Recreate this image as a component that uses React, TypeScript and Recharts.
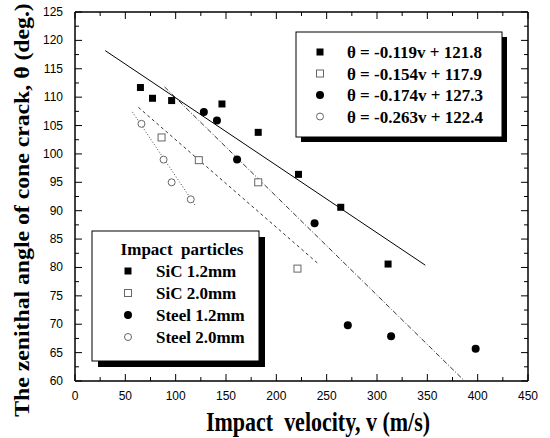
import { ComposedChart, Scatter, Line, XAxis, YAxis } from 'recharts'

// measured points, v (m/s) vs theta (deg)
const sic12 = [
  { v: 65, theta: 111.7 },
  { v: 77, theta: 109.8 },
  { v: 96, theta: 109.4 },
  { v: 146, theta: 108.8 },
  { v: 182, theta: 103.8 },
  { v: 222, theta: 96.4 },
  { v: 264, theta: 90.6 },
  { v: 311, theta: 80.6 },
]
const sic20 = [
  { v: 86, theta: 102.9 },
  { v: 123, theta: 98.9 },
  { v: 182, theta: 95.0 },
  { v: 221, theta: 79.8 },
]
const steel12 = [
  { v: 128, theta: 107.4 },
  { v: 141, theta: 105.9 },
  { v: 161, theta: 99.0 },
  { v: 238, theta: 87.8 },
  { v: 271, theta: 69.8 },
  { v: 314, theta: 67.9 },
  { v: 398, theta: 65.7 },
]
const steel20 = [
  { v: 66, theta: 105.3 },
  { v: 88, theta: 99.0 },
  { v: 96, theta: 95.0 },
  { v: 115, theta: 92.0 },
]

// fitted lines, end points as drawn
const fitSic12 = [{ v: 30, theta: 118.2 }, { v: 348, theta: 80.4 }]
const fitSic20 = [{ v: 63, theta: 108.2 }, { v: 242, theta: 80.6 }]
const fitSteel12 = [{ v: 89, theta: 111.8 }, { v: 387, theta: 60 }]
const fitSteel20 = [{ v: 57, theta: 107.4 }, { v: 120, theta: 90.8 }]

const fitLabels = [
  'θ = -0.119v + 121.8',
  'θ = -0.154v + 117.9',
  'θ = -0.174v + 127.3',
  'θ = -0.263v + 122.4',
]
const particleLabels = ['SiC 1.2mm', 'SiC 2.0mm', 'Steel 1.2mm', 'Steel 2.0mm']

const xTicks = Array.from({ length: 19 }, (_, i) => i * 25)
const yTicks = Array.from({ length: 27 }, (_, i) => 60 + i * 2.5)

const SERIF = '"Liberation Serif", "Times New Roman", serif'
const SANS = '"Liberation Sans", Arial, sans-serif'

function Marker({ kind, cx, cy }: { kind: number; cx: number; cy: number }) {
  if (kind === 0) return <rect x={cx - 3.5} y={cy - 3.5} width={7} height={7} fill="#000" />
  if (kind === 1)
    return <rect x={cx - 3.5} y={cy - 3.5} width={7} height={7} fill="#fff" stroke="#666" strokeWidth={1} />
  if (kind === 2) return <circle cx={cx} cy={cy} r={4} fill="#000" />
  return <circle cx={cx} cy={cy} r={3.5} fill="#fff" stroke="#666" strokeWidth={1} />
}

const shape = (kind: number) => (p: any) => <Marker kind={kind} cx={p.cx} cy={p.cy} />

function BottomTick({ x, y, payload }: any) {
  const major = payload.value % 50 === 0
  return (
    <g>
      <line x1={x} y1={y} x2={x} y2={y - (major ? 7 : 4)} stroke="#000" />
      {major && (
        <text x={x} y={y + 19} textAnchor="middle" fontFamily={SANS} fontSize={12} fill="#000">
          {payload.value}
        </text>
      )}
    </g>
  )
}
function TopTick({ x, y, payload }: any) {
  const major = payload.value % 50 === 0
  return <line x1={x} y1={y} x2={x} y2={y + (major ? 7 : 4)} stroke="#000" />
}
function LeftTick({ x, y, payload }: any) {
  const major = payload.value % 5 === 0
  return (
    <g>
      <line x1={x} y1={y} x2={x + (major ? 7 : 4)} y2={y} stroke="#000" />
      {major && (
        <text x={x - 12} y={y + 4} textAnchor="end" fontFamily={SANS} fontSize={12} fill="#000">
          {payload.value}
        </text>
      )}
    </g>
  )
}
function RightTick({ x, y, payload }: any) {
  const major = payload.value % 5 === 0
  return <line x1={x} y1={y} x2={x - (major ? 7 : 4)} y2={y} stroke="#000" />
}

export default function App() {
  return (
    <div style={{ position: 'absolute', left: 0, top: 0, background: '#fff' }}>
      <ComposedChart width={550} height={438} margin={{ top: 0, right: 0, bottom: 0, left: 0 }}>
        <XAxis
          xAxisId="b"
          dataKey="v"
          type="number"
          domain={[0, 450]}
          ticks={xTicks}
          allowDataOverflow
          height={57}
          tickSize={0}
          tickMargin={0}
          tickLine={false}
          axisLine={{ stroke: '#000', strokeWidth: 1.5 }}
          tick={<BottomTick />}
          interval={0}
        />
        <XAxis
          xAxisId="t"
          orientation="top"
          dataKey="v"
          type="number"
          domain={[0, 450]}
          ticks={xTicks}
          allowDataOverflow
          height={12}
          tickSize={0}
          tickMargin={0}
          tickLine={false}
          axisLine={{ stroke: '#000', strokeWidth: 1.5 }}
          tick={<TopTick />}
          interval={0}
        />
        <YAxis
          yAxisId="l"
          dataKey="theta"
          type="number"
          domain={[60, 125]}
          ticks={yTicks}
          allowDataOverflow
          width={75}
          tickSize={0}
          tickMargin={0}
          tickLine={false}
          axisLine={{ stroke: '#000', strokeWidth: 1.5 }}
          tick={<LeftTick />}
          interval={0}
        />
        <YAxis
          yAxisId="r"
          orientation="right"
          dataKey="theta"
          type="number"
          domain={[60, 125]}
          ticks={yTicks}
          allowDataOverflow
          width={22}
          tickSize={0}
          tickMargin={0}
          tickLine={false}
          axisLine={{ stroke: '#000', strokeWidth: 1.5 }}
          tick={<RightTick />}
          interval={0}
        />

        <Line xAxisId="b" yAxisId="l" data={fitSic12} dataKey="theta" stroke="#000" strokeWidth={1} dot={false} isAnimationActive={false} />
        <Line xAxisId="b" yAxisId="l" data={fitSic20} dataKey="theta" stroke="#333" strokeWidth={1} strokeDasharray="3 3" dot={false} isAnimationActive={false} />
        <Line xAxisId="b" yAxisId="l" data={fitSteel12} dataKey="theta" stroke="#333" strokeWidth={1} strokeDasharray="5 2 1 2" dot={false} isAnimationActive={false} />
        <Line xAxisId="b" yAxisId="l" data={fitSteel20} dataKey="theta" stroke="#444" strokeWidth={1} strokeDasharray="1 2" dot={false} isAnimationActive={false} />

        <Scatter xAxisId="b" yAxisId="l" data={sic12} shape={shape(0)} isAnimationActive={false} />
        <Scatter xAxisId="b" yAxisId="l" data={sic20} shape={shape(1)} isAnimationActive={false} />
        <Scatter xAxisId="b" yAxisId="l" data={steel12} shape={shape(2)} isAnimationActive={false} />
        <Scatter xAxisId="b" yAxisId="l" data={steel20} shape={shape(3)} isAnimationActive={false} />

        {/* fit equations box */}
        <g>
          <rect x={301} y={37} width={206} height={105} fill="#000" />
          <rect x={296} y={32} width={206} height={105} fill="#fff" stroke="#000" strokeWidth={1} />
          {fitLabels.map((t, i) => (
            <g key={t}>
              <Marker kind={i} cx={320} cy={52 + i * 21.5} />
              <text x={347} y={58 + i * 21.5} fontFamily={SERIF} fontWeight="bold" fontSize={17} fill="#000">
                {t}
              </text>
            </g>
          ))}
        </g>

        {/* particles box */}
        <g>
          <rect x={98} y={237} width={167} height={130} fill="#000" />
          <rect x={92} y={231} width={167} height={130} fill="#fff" stroke="#000" strokeWidth={1} />
          <text x={182} y={255} textAnchor="middle" fontFamily={SERIF} fontWeight="bold" fontSize={17} fill="#000" xmlSpace="preserve">
            Impact  particles
          </text>
          {particleLabels.map((t, i) => (
            <g key={t}>
              <Marker kind={i} cx={128} cy={271 + i * 22} />
              <text x={156} y={277 + i * 22} fontFamily={SERIF} fontWeight="bold" fontSize={17} fill="#000">
                {t}
              </text>
            </g>
          ))}
        </g>

        <text
          x={0}
          y={0}
          transform="translate(318,431) scale(1,1.2)"
          textAnchor="middle"
          fontFamily={SERIF}
          fontWeight="bold"
          fontSize={22}
          fill="#000"
          xmlSpace="preserve"
        >
          Impact  velocity, v (m/s)
        </text>
        <text
          x={0}
          y={0}
          transform="translate(29,210) rotate(-90) scale(1.13,1)"
          textAnchor="middle"
          fontFamily={SERIF}
          fontWeight="bold"
          fontSize={21}
          fill="#000"
        >
          The zenithal angle of cone crack, θ (deg.)
        </text>
      </ComposedChart>
    </div>
  )
}
